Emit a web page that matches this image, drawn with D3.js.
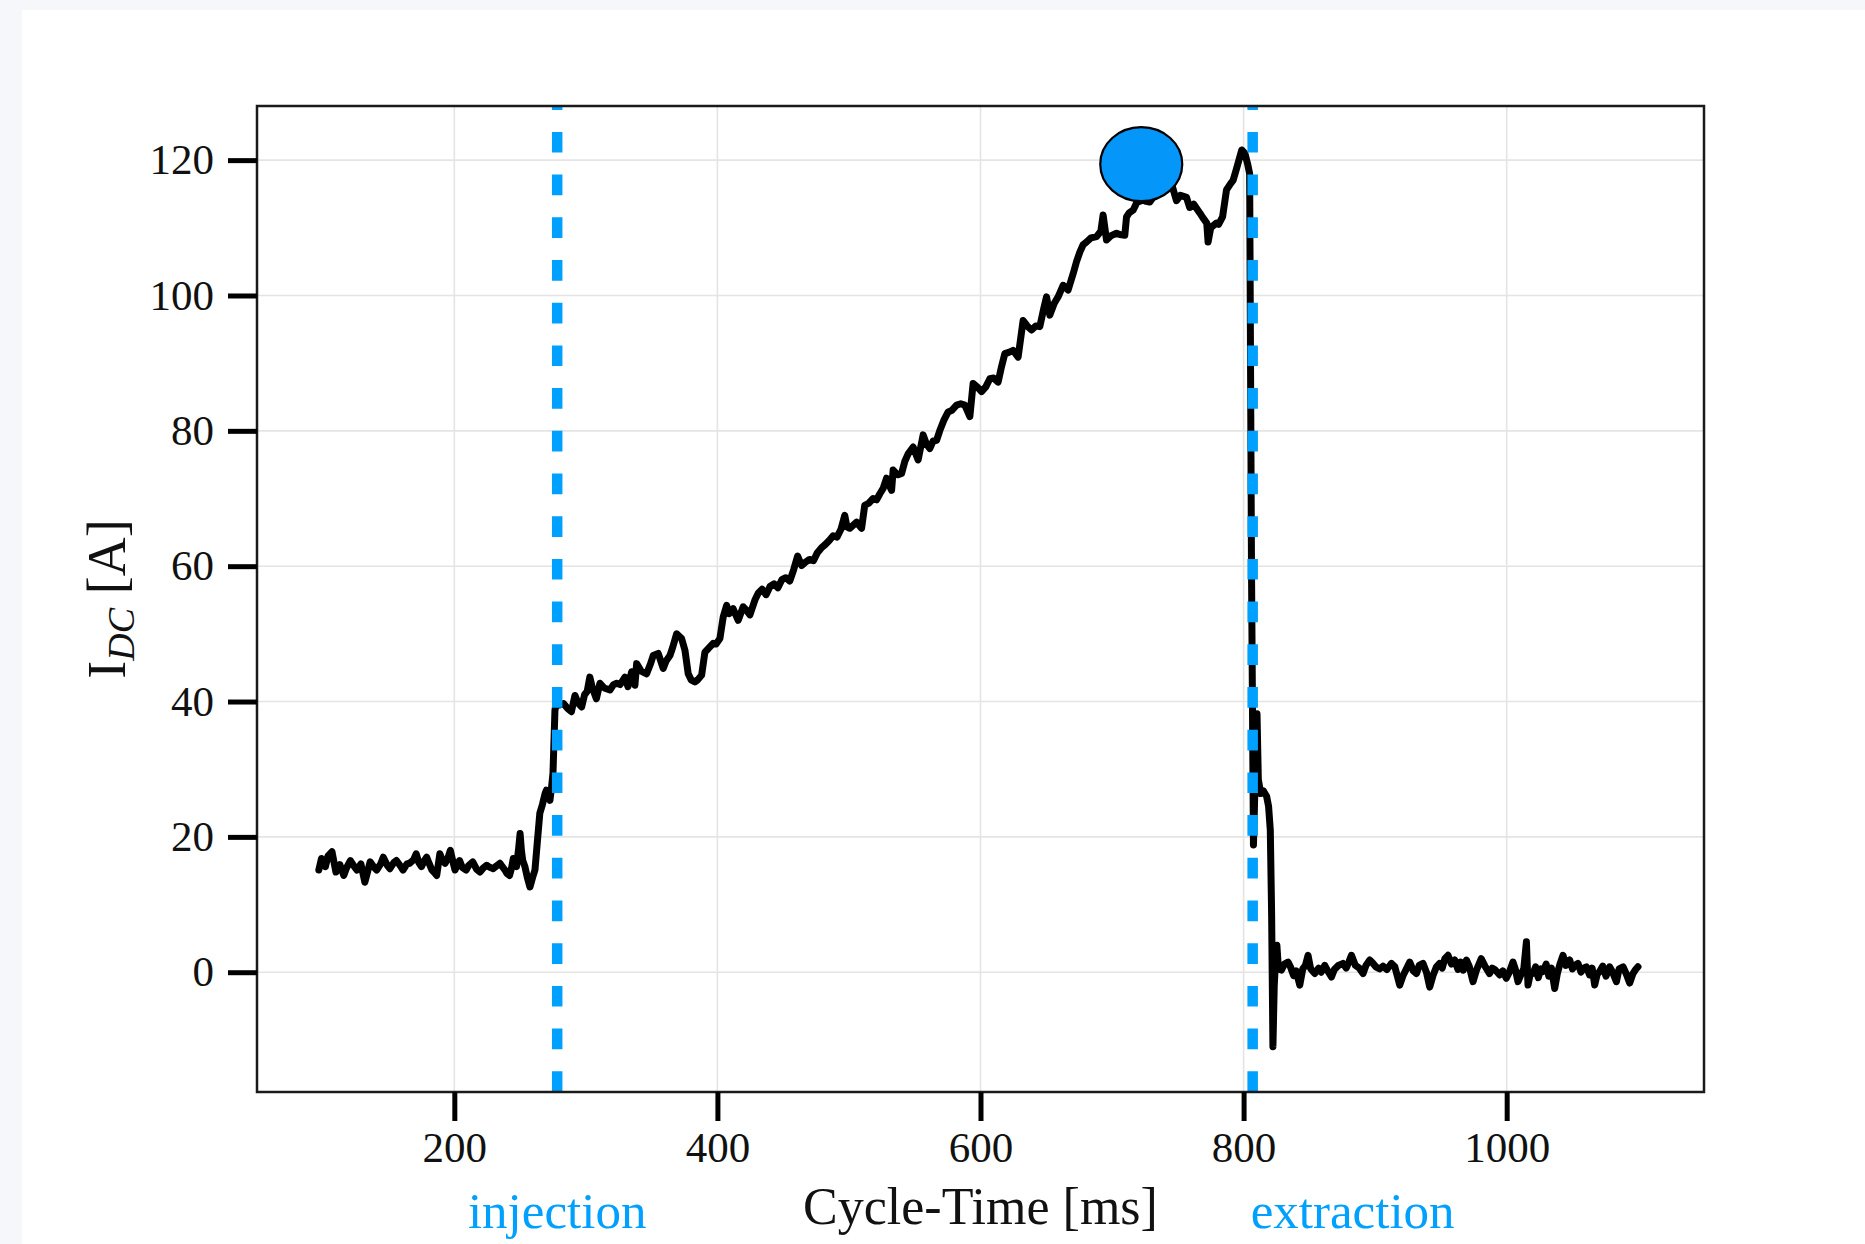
<!DOCTYPE html>
<html>
<head>
<meta charset="utf-8">
<script src="https://cdn.jsdelivr.net/npm/d3@7"></script>
<style>
  html, body { margin: 0; padding: 0; background: #f5f7fb; }
  svg { display: block; }
  text { font-family: "Liberation Serif", "Times New Roman", serif; }
</style>
</head>
<body>
<svg id="chart" width="1865" height="1244"></svg>
<script>
// Beam current I_DC over one machine cycle
const cycleTimeMs = [
  97, 99, 102, 104, 107, 110, 113, 116, 118, 121, 124, 126, 129, 132, 134, 136, 139, 141, 144, 146,
  149, 151, 154, 156, 159, 161, 164, 166, 169, 171, 173, 175, 177, 179, 181, 183, 185, 186.6, 189, 191,
  193, 195, 197, 199, 200.5, 202, 204, 206, 209, 211, 214, 217, 219.5, 222, 224.6, 227, 229.6, 232, 234.7, 236.5,
  238.5, 240, 242, 243.5, 244.8, 246, 247.3, 249, 250, 251, 252, 253.7, 255.5, 257.5, 259.5, 261.3, 263, 265, 267, 269,
  270, 271.4, 272.7, 274, 275, 276.5, 277.8, 280, 283, 286, 289, 291.7, 294, 296.8, 299, 301, 303, 305, 308, 310.7,
  314, 318.3, 321, 323.4, 326, 329.7, 332, 334.8, 337.3, 338.6, 342, 346.2, 349, 351.2, 355, 358.8, 361, 363.9, 366, 369,
  372.8, 375.3, 377.8, 380, 382.9, 385, 388, 390.5, 393, 396.8, 399, 401.9, 404.4, 407, 409, 412, 415.8, 419.6, 422, 424.7,
  428.5, 431, 434, 437, 440, 443, 446, 449, 452, 455, 458, 461, 464, 467, 470, 473, 476, 479, 482, 485,
  488, 491, 494, 496.8, 498.5, 500.6, 505.8, 509.6, 512, 515, 518.4, 521, 523.5, 526, 528.6, 530.5, 532.4, 533.6, 537, 540,
  542.5, 545, 548.8, 552.6, 556.4, 559, 561.5, 564, 566.6, 569, 572, 575.4, 578, 581.8, 585, 588.1, 591.9, 594.4, 597.5, 600.8,
  604, 607.1, 610, 613.4, 616, 618.5, 621.5, 624.8, 628.6, 632.4, 635.5, 638.8, 642, 645.1, 648, 650.2, 652.7, 656, 659, 662.8,
  666.6, 670.4, 673, 675.5, 678, 680.6, 684, 688.2, 691.5, 693.2, 695.8, 699, 703.4, 706, 709.7, 711, 713, 716, 719, 723.6,
  726, 728.6, 733, 738, 742, 746, 749, 752, 756.6, 759, 762, 766.7, 769, 772, 773, 775, 779.4, 781, 784, 787,
  790, 792, 795, 798.6, 801, 803, 804.6, 806, 807.5, 809, 810.2, 811.2, 813, 815, 817.5, 819, 820.3, 821.3, 822.3, 823.3,
  824.2, 825.3, 826.5, 828.7, 831, 833.8, 835.6, 838, 840, 842.7, 845, 847, 849, 851, 854.1, 857, 859, 861.7, 864, 866.8,
  869, 872, 875.6, 878, 880, 882, 885, 888, 890.8, 893, 895.9, 898, 900.5, 903.5, 906, 909, 912.4, 915, 918.7, 921,
  923.5, 926.3, 929, 931.4, 933.5, 936.4, 939, 941.5, 944, 946.6, 949, 951, 953, 955.4, 958, 960.5, 963, 965, 967, 969.4,
  971.5, 974.4, 977, 980.7, 983.5, 987, 989, 991, 994.7, 997, 999.7, 1002, 1004.8, 1006.5, 1008.6, 1011, 1013, 1015, 1016.2, 1018,
  1020, 1022, 1024, 1026, 1027.6, 1030, 1032, 1034, 1036.5, 1038.5, 1040.5, 1042.8, 1045, 1047.9, 1050, 1052, 1054.2, 1056.5, 1058.5, 1060.6,
  1063, 1065, 1066.9, 1068.8, 1070.7, 1073, 1075.5, 1078.3, 1080.5, 1083.4, 1085.5, 1088.5, 1091, 1093.5, 1096, 1098, 1099.8
];

const idcAmps = [
  15.1, 16.8, 15.6, 17.2, 17.8, 14.8, 15.9, 14.3, 15.4, 16.5, 15.6, 15.1, 16.0, 13.3, 14.8, 16.3, 15.5, 15.1, 16.0, 17.0,
  15.8, 15.3, 16.2, 16.5, 15.7, 15.1, 16.0, 16.1, 16.6, 17.5, 16.2, 15.6, 16.4, 17.0, 16.0, 15.1, 14.7, 14.3, 17.5, 16.5,
  16.1, 16.8, 18.0, 16.3, 15.1, 15.8, 16.5, 15.5, 15.1, 15.8, 16.3, 15.2, 14.8, 15.4, 15.8, 15.5, 15.3, 15.7, 16.1, 15.6,
  15.1, 14.6, 14.3, 15.4, 16.8, 16.0, 15.6, 18.5, 20.5, 18.0, 16.5, 15.6, 14.0, 12.6, 14.0, 15.1, 19.0, 23.5, 24.8, 26.4,
  26.9, 26.0, 25.4, 27.5, 29.4, 38.7, 40.2, 39.5, 39.7, 39.0, 38.5, 40.9, 39.8, 39.2, 41.0, 41.5, 43.6, 42.0, 40.4, 42.7,
  42.0, 41.7, 42.5, 42.7, 42.5, 43.6, 42.2, 44.4, 42.4, 45.6, 44.5, 44.1, 45.5, 46.8, 47.1, 44.9, 46.0, 46.8, 48.0, 50.0,
  49.3, 47.6, 44.1, 43.2, 42.9, 43.2, 43.9, 47.3, 47.8, 48.6, 48.5, 49.3, 52.5, 54.2, 53.0, 53.7, 52.0, 54.0, 53.5, 52.8,
  55.0, 56.0, 56.6, 55.8, 57.0, 57.4, 56.8, 58.0, 58.3, 57.8, 59.5, 61.5, 60.1, 60.6, 61.0, 60.8, 62.0, 62.7, 63.2, 63.8,
  64.5, 64.3, 65.5, 67.5, 65.8, 65.6, 66.5, 65.6, 69.0, 69.3, 70.0, 69.8, 70.7, 71.5, 73.0, 72.0, 71.2, 74.2, 73.5, 73.7,
  75.5, 76.6, 77.6, 75.7, 79.4, 78.0, 77.4, 78.5, 78.6, 80.0, 81.5, 82.8, 83.0, 83.8, 84.0, 83.8, 82.1, 87.0, 86.5, 85.8,
  86.5, 87.7, 87.8, 87.2, 89.5, 91.4, 91.6, 91.9, 90.9, 96.3, 95.5, 94.9, 95.5, 95.4, 98.0, 99.8, 97.1, 98.8, 99.8, 101.5,
  100.8, 103.2, 105.0, 106.4, 107.5, 107.9, 108.5, 108.7, 109.5, 111.9, 108.2, 108.8, 109.2, 109.0, 108.9, 111.6, 112.2, 112.6, 113.8, 114.1,
  113.9, 113.8, 115.0, 116.0, 116.5, 116.0, 114.0, 114.8, 114.5, 113.0, 113.5, 112.2, 111.5, 110.7, 107.9, 110.0, 110.7, 110.5, 111.6, 115.6,
  116.5, 117.0, 119.0, 121.5, 121.0, 119.5, 118.0, 60.0, 18.8, 30.0, 38.2, 28.5, 26.4, 26.8, 26.0, 24.5, 21.0, 8.7, -11.0, -2.0,
  1.3, 4.0, 0.5, 0.3, 1.2, 1.5, 0.8, -0.5, 0.2, -1.9, 0.5, 1.0, 2.5, 0.5, -0.2, 0.6, 0.0, 1.0, 0.2, -0.7,
  0.4, 1.0, 1.3, 0.6, 1.5, 2.5, 1.0, 0.6, -0.2, 1.0, 1.8, 1.4, 0.8, 0.5, 0.9, 0.4, 1.3, 0.8, -1.9, -0.6,
  0.4, 1.5, 0.2, -0.2, 1.0, 1.3, 0.0, -2.2, -0.5, 0.8, 1.3, 0.6, 2.0, 2.5, 1.2, 1.8, 0.4, 1.5, 0.3, 1.8,
  0.9, -1.4, 0.3, 2.0, 0.9, -0.2, 0.6, 0.4, -0.4, 0.2, -0.9, 0.0, 1.5, 0.5, -1.4, -0.3, 0.5, 4.5, -1.9, -0.2,
  -0.2, 0.8, -0.8, 0.5, 0.1, 1.2, -0.6, 0.6, -2.4, -0.2, 1.2, 2.5, 1.0, 1.8, 0.5, 1.0, 1.3, 0.0, 0.6, 0.8,
  -0.4, 0.6, -1.9, -0.3, 0.1, 0.9, -0.6, 0.8, 0.0, -1.4, 0.5, 0.8, -0.3, -1.6, -0.2, 0.4, 0.8
];

const xTickValues = [200, 400, 600, 800, 1000];
const yTickValues = [0, 20, 40, 60, 80, 100, 120];
const eventTimesMs = [278.2, 806.9];
const eventLabels = ["injection", "extraction"];
const markerTimeMs = [722.2];
const markerAmps = [119.4];

const series = cycleTimeMs.map((t, i) => ({ t, v: idcAmps[i] }));

const svg = d3.select("#chart");
const plot = { left: 257, top: 106, right: 1704, bottom: 1092 };
const accent = "#00a0ff";

// white card behind the figure
svg.append("rect").attr("x", 22).attr("y", 10).attr("width", 1865 - 22).attr("height", 1244 - 10).attr("fill", "#ffffff");

const x = d3.scaleLinear().domain([50, 1150]).range([plot.left, plot.right]);
const y = d3.scaleLinear().domain([-17.7, 128]).range([plot.bottom, plot.top]);

svg.append("clipPath").attr("id", "plot-clip")
  .append("rect")
  .attr("x", plot.left).attr("y", plot.top)
  .attr("width", plot.right - plot.left).attr("height", plot.bottom - plot.top);

// grid
const grid = svg.append("g").attr("stroke", "#e4e4e4").attr("stroke-width", 1.6);
grid.selectAll("line.gx").data(xTickValues).join("line")
  .attr("x1", d => x(d)).attr("x2", d => x(d))
  .attr("y1", plot.top).attr("y2", plot.bottom);
grid.selectAll("line.gy").data(yTickValues).join("line")
  .attr("y1", d => y(d)).attr("y2", d => y(d))
  .attr("x1", plot.left).attr("x2", plot.right);

// measured current
const line = d3.line().x(d => x(d.t)).y(d => y(d.v));
svg.append("path")
  .datum(series)
  .attr("clip-path", "url(#plot-clip)")
  .attr("d", line)
  .attr("fill", "none")
  .attr("stroke", "#000")
  .attr("stroke-width", 7)
  .attr("stroke-linejoin", "round")
  .attr("stroke-linecap", "round");

// injection / extraction markers
svg.append("g").selectAll("line").data(eventTimesMs).join("line")
  .attr("x1", d => x(d)).attr("x2", d => x(d))
  .attr("y1", plot.bottom).attr("y2", plot.top)
  .attr("stroke", accent)
  .attr("stroke-width", 10.5)
  .attr("stroke-dasharray", "20.7 22");

// highlighted point
svg.append("ellipse")
  .datum({ t: markerTimeMs[0], v: markerAmps[0] })
  .attr("cx", d => x(d.t)).attr("cy", d => y(d.v))
  .attr("rx", 41).attr("ry", 37)
  .attr("fill", "#0596fa")
  .attr("stroke", "#000")
  .attr("stroke-width", 2.2);

// frame
svg.append("rect")
  .attr("x", plot.left).attr("y", plot.top)
  .attr("width", plot.right - plot.left).attr("height", plot.bottom - plot.top)
  .attr("fill", "none").attr("stroke", "#1a1a1a").attr("stroke-width", 2.5);

// axes
const yAxis = d3.axisLeft(y).tickValues(yTickValues).tickSize(29).tickPadding(14).tickFormat(d3.format("d"));
const gy = svg.append("g").attr("transform", `translate(${plot.left},0)`).call(yAxis);
const xAxis = d3.axisBottom(x).tickValues(xTickValues).tickSize(29).tickPadding(10).tickFormat(d3.format("d"));
const gx = svg.append("g").attr("transform", `translate(0,${plot.bottom})`).call(xAxis);
[gx, gy].forEach(g => {
  g.select(".domain").remove();
  g.selectAll(".tick line").attr("stroke", "#000").attr("stroke-width", 5);
  g.selectAll(".tick text")
    .attr("fill", "#111")
    .style("font-family", '"Liberation Serif", "Times New Roman", serif')
    .style("font-size", "43px");
});

// axis titles
svg.append("text")
  .attr("x", (plot.left + plot.right) / 2).attr("y", 1224)
  .attr("text-anchor", "middle")
  .attr("fill", "#111")
  .style("font-size", "52px")
  .text("Cycle-Time [ms]");

const yTitle = svg.append("text")
  .attr("transform", `translate(125,${(plot.top + plot.bottom) / 2}) rotate(-90)`)
  .attr("text-anchor", "middle")
  .attr("fill", "#111")
  .style("font-size", "54px");
yTitle.append("tspan").text("I");
yTitle.append("tspan").attr("dy", 9).style("font-size", "38px").style("font-style", "italic").text("DC");
yTitle.append("tspan").attr("dy", -9).text(" [A]");

// event labels
svg.append("g").selectAll("text").data(eventTimesMs).join("text")
  .attr("x", (d, i) => i === 0 ? x(d) : x(d) - 2)
  .attr("y", 1228)
  .attr("text-anchor", (d, i) => i === 0 ? "middle" : "start")
  .attr("fill", accent)
  .style("font-size", "51px")
  .text((d, i) => eventLabels[i]);
</script>
</body>
</html>
